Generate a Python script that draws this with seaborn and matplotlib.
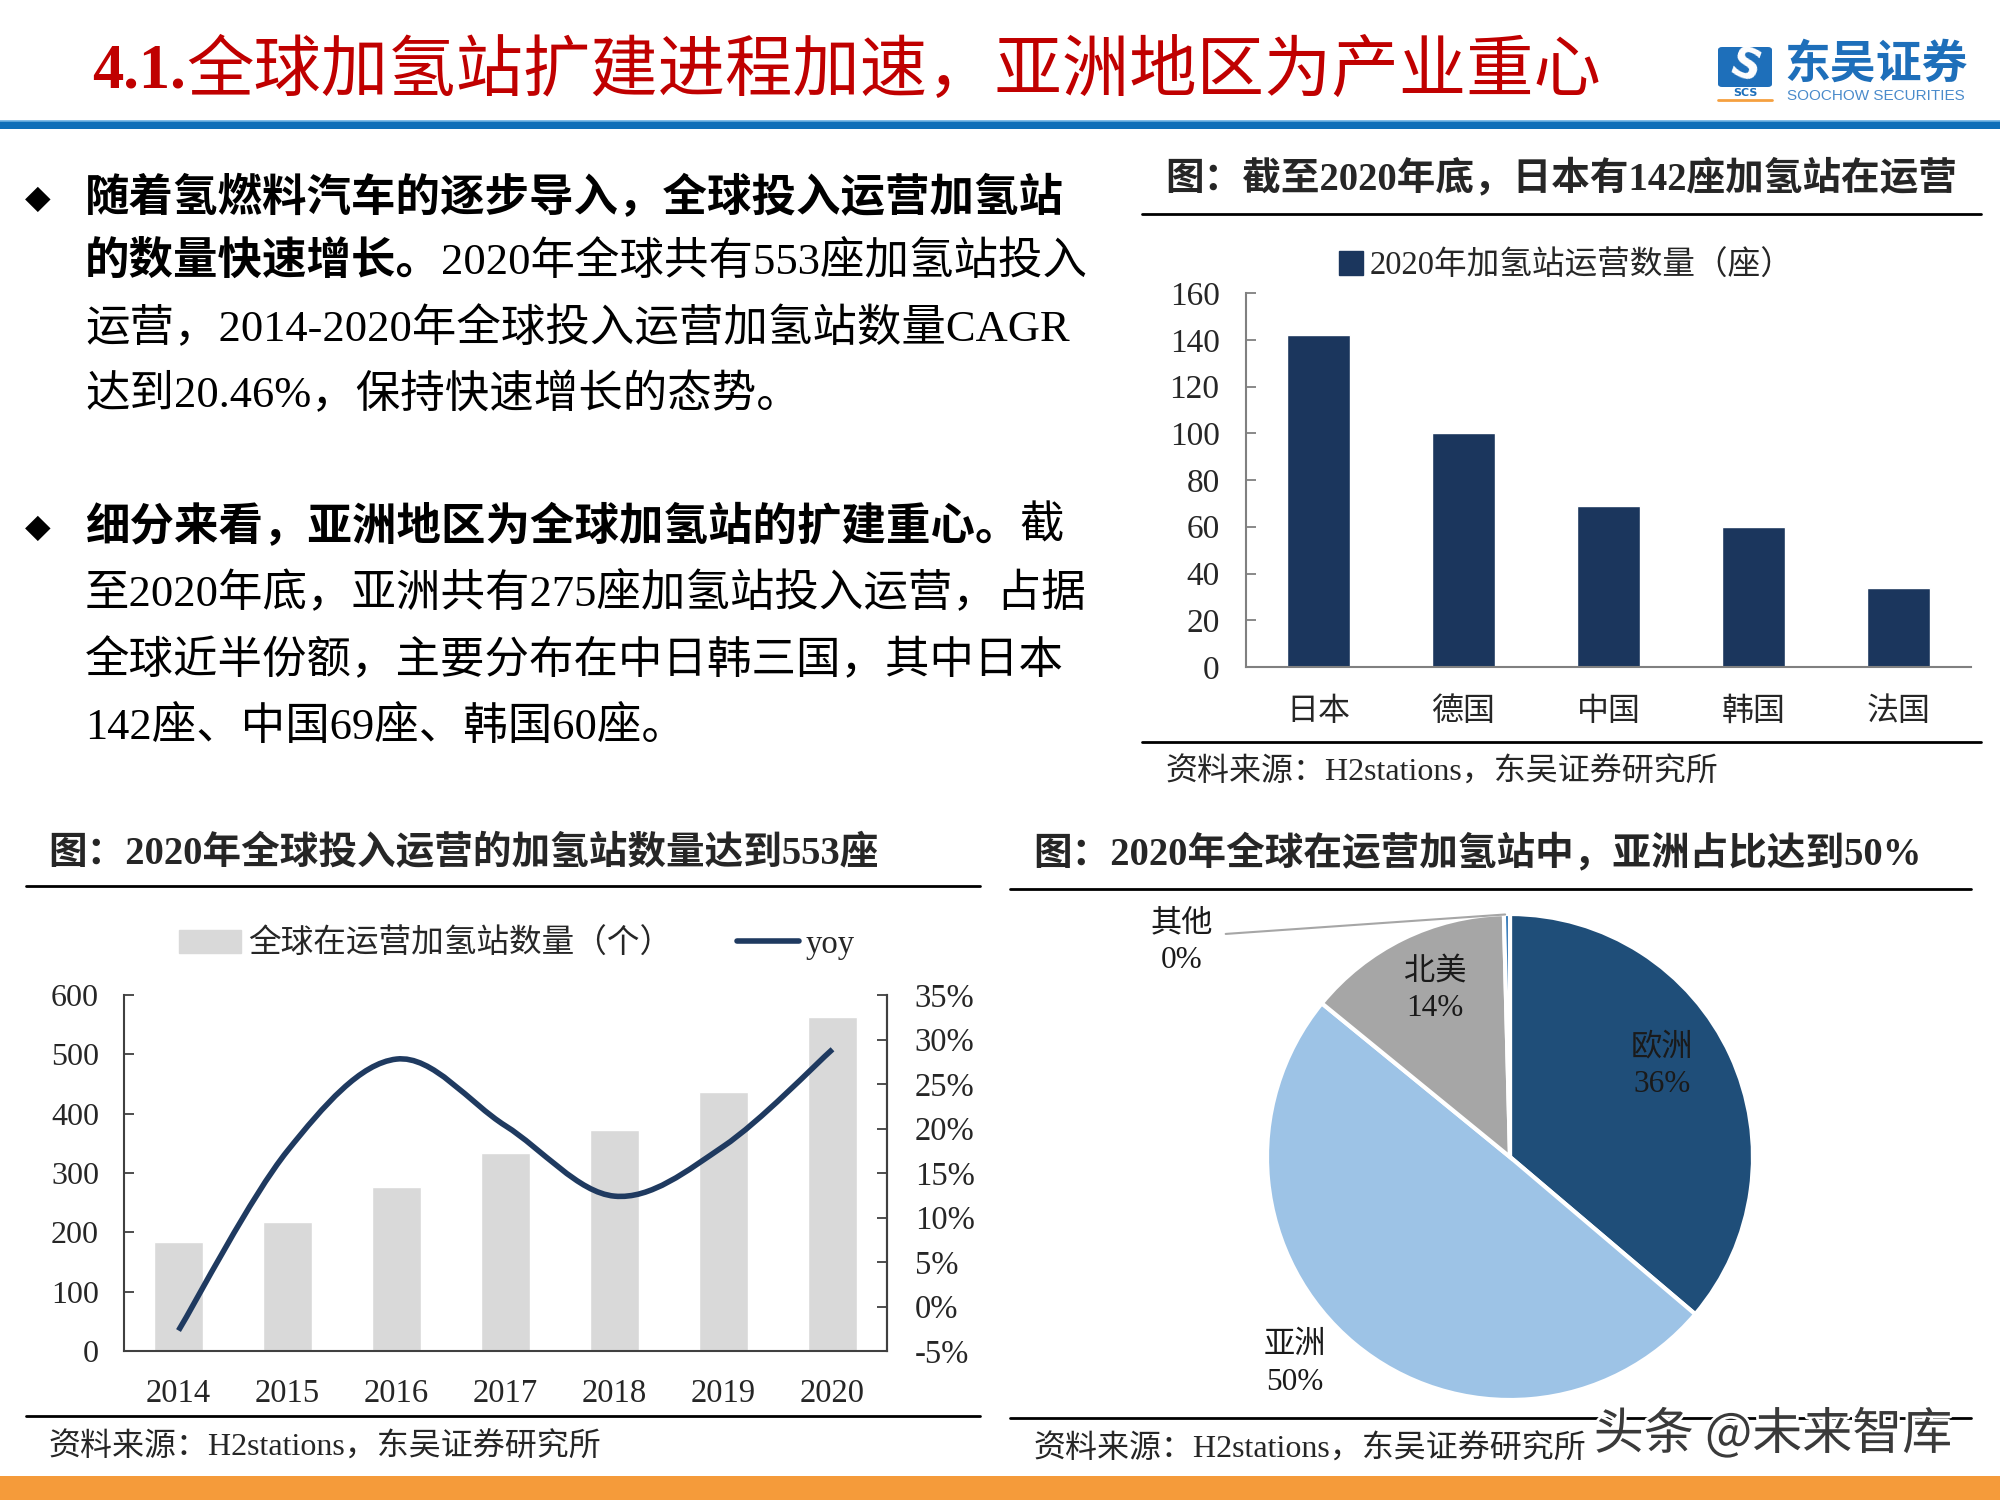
import matplotlib
matplotlib.use('Agg')
import matplotlib.pyplot as plt
import seaborn as sns
import numpy as np
import pandas as pd
from matplotlib.path import Path
from matplotlib.patches import PathPatch, Rectangle, Patch, FancyBboxPatch
from matplotlib.lines import Line2D
import matplotlib.patheffects as pe

# ---------------- data ----------------
country_names = ['日本', '德国', '中国', '韩国', '法国']
country_stations = [142, 100, 69, 60, 34]

years = ['2014', '2015', '2016', '2017', '2018', '2019', '2020']
global_stations = [184, 217, 277, 333, 373, 437, 563]
yoy_pct = [-2.7, 17.5, 27.8, 20.3, 12.4, 18.0, 28.9]

region_names = ['欧洲', '亚洲', '北美', '其他']
region_share = [36.2, 49.7, 13.7, 0.4]

left_ticks = [0, 100, 200, 300, 400, 500, 600]
right_ticks = [-5, 0, 5, 10, 15, 20, 25, 30, 35]
top_ticks = [0, 20, 40, 60, 80, 100, 120, 140, 160]

title_main = '全球加氢站扩建进程加速，亚洲地区为产业重心'
title_top = '图：截至2020年底，日本有142座加氢站在运营'
title_line = '图：2020年全球投入运营的加氢站数量达到553座'
title_pie = '图：2020年全球在运营加氢站中，亚洲占比达到50%'
source_text = '资料来源：H2stations，东吴证券研究所'
legend_top = '2020年加氢站运营数量（座）'
legend_bar = '全球在运营加氢站数量（个）'
legend_line = 'yoy'

body_lines = [
    [('随着氢燃料汽车的逐步导入，全球投入运营加氢站', True)],
    [('的数量快速增长。', True), ('2020年全球共有553座加氢站投入', False)],
    [('运营，2014-2020年全球投入运营加氢站数量CAGR', False)],
    [('达到20.46%，保持快速增长的态势。', False)],
    [('细分来看，亚洲地区为全球加氢站的扩建重心。', True), ('截', False)],
    [('至2020年底，亚洲共有275座加氢站投入运营，占据', False)],
    [('全球近半份额，主要分布在中日韩三国，其中日本', False)],
    [('142座、中国69座、韩国60座。', False)],
]
body_y = [198, 262, 329, 395, 527, 593, 661, 727]
bullet_y = [198, 527]

# ---------------- style ----------------
sns.set_style('white')
FAM = ['Liberation Serif', 'Noto Sans CJK SC', 'DejaVu Sans']
plt.rcParams['font.family'] = FAM
plt.rcParams['axes.unicode_minus'] = False

W, H = 2000, 1500
fig = plt.figure(figsize=(20, 15), dpi=100)
fig.patch.set_facecolor('white')


def fx(px):
    return px / W


def fy(py):
    return 1 - py / H


def hline(x0, x1, y, color='black', lw=2.0):
    fig.add_artist(Line2D([fx(x0), fx(x1)], [fy(y), fy(y)],
                          transform=fig.transFigure, color=color, lw=lw))


renderer = fig.canvas.get_renderer()


def seg_text(x, y, segs, size, color='black', family=FAM):
    cur = x
    for txt, bold in segs:
        t = fig.text(fx(cur), fy(y), txt, fontsize=size, color=color,
                     fontweight='bold' if bold else 'normal',
                     ha='left', va='center', family=family)
        bb = t.get_window_extent(renderer)
        cur += bb.width
    return cur


# ---------------- header ----------------
RED = '#C00000'
cur = seg_text(92, 72, [('4.1.', True)], 45, color=RED)
fig.text(fx(cur), fy(72), title_main, fontsize=48.5, color=RED,
         ha='left', va='center', family=['Noto Sans CJK SC'], fontweight='medium')

# blue band
fig.add_artist(Rectangle((0, fy(129)), 1, 8 / H, transform=fig.transFigure,
                         color='#0F6EB8', lw=0))
hline(0, W, 121, color='#6AAEE0', lw=1.2)

# logo
LB = '#1E6FBA'
fig.add_artist(FancyBboxPatch((fx(1718), fy(87)), 54 / W, 40 / H,
                              boxstyle='round,pad=0,rounding_size=0.002',
                              transform=fig.transFigure, color=LB, lw=0))
fig.text(fx(1745), fy(67), 'S', fontsize=30, color='white', fontweight='bold',
         ha='center', va='center', family=['DejaVu Sans'], rotation=-20)
fig.text(fx(1745), fy(93), 'SCS', fontsize=8, color=LB, fontweight='bold',
         ha='center', va='center', family=['DejaVu Sans'])
hline(1718, 1772, 100, color='#F5A040', lw=2)
fig.text(fx(1876), fy(65), '东吴证券', fontsize=33, color=LB, fontweight='bold',
         ha='center', va='center', family=['Noto Sans CJK SC'])
fig.text(fx(1876), fy(96), 'SOOCHOW SECURITIES', fontsize=11, color='#4A8BCB',
         ha='center', va='center', family=['Liberation Sans'])

# ---------------- body text ----------------
for by in bullet_y:
    fig.text(fx(38), fy(by), '◆', fontsize=24, color='black',
             ha='center', va='center', family=['DejaVu Sans'])
for segs, yy in zip(body_lines, body_y):
    seg_text(85, yy, segs, 32)

# ---------------- section rules & titles ----------------
fig.text(fx(1165), fy(179), title_top, fontsize=27.8, fontweight='bold',
         ha='left', va='center')
hline(1142, 1981, 214)
hline(1142, 1981, 742)
fig.text(fx(1165), fy(773), source_text, fontsize=23, ha='left', va='center')

fig.text(fx(48), fy(855), title_line, fontsize=27.8, fontweight='bold',
         ha='left', va='center')
hline(26, 980, 886)
hline(26, 980, 1416)
fig.text(fx(48), fy(1448), source_text, fontsize=23, ha='left', va='center')

fig.text(fx(1033), fy(855), title_pie, fontsize=27.8, fontweight='bold',
         ha='left', va='center')
hline(1010, 1971, 889)
hline(1010, 1971, 1418)
fig.text(fx(1033), fy(1450), source_text, fontsize=23, ha='left', va='center')

# ---------------- top-right bar chart ----------------
NAVY = '#1B365D'
ax1 = fig.add_axes([fx(1246), fy(667), (1971 - 1246) / W, (667 - 293) / H])
df1 = pd.DataFrame({'country': country_names, 'n': country_stations})
sns.barplot(data=df1, x='country', y='n', color=NAVY, saturation=1,
            width=0.44, ax=ax1)
ax1.set_xlim(-0.5, len(country_names) - 0.5)
ax1.set_ylim(0, 160)
ax1.set_yticks(top_ticks)
ax1.set_xlabel('')
ax1.set_ylabel('')
for s in ['top', 'right']:
    ax1.spines[s].set_visible(False)
for s in ['left', 'bottom']:
    ax1.spines[s].set_color('#808080')
    ax1.spines[s].set_linewidth(1.5)
ax1.set_xticks(np.arange(0.5, len(country_names) - 1, 1.0), minor=True)
ax1.tick_params(axis='x', which='major', length=0, labelsize=23, pad=22)
ax1.tick_params(axis='x', which='minor', direction='in', length=7,
                color='#808080', width=1.3)
ax1.tick_params(axis='y', direction='in', length=7, color='#808080', width=1.3,
                labelsize=24, pad=19, left=True)
ax1.patch.set_alpha(0)
fig.legend(handles=[Patch(facecolor=NAVY, edgecolor=NAVY)], labels=[legend_top],
           loc='center', bbox_to_anchor=(fx(1566), fy(266)), frameon=False,
           fontsize=23.5, handlelength=0.75, handleheight=0.75, handletextpad=0.2,
           borderaxespad=0)

# ---------------- bottom-left bar + line chart ----------------
BARGRAY = '#D9D9D9'
LINE = '#1F3A60'
ax2 = fig.add_axes([fx(124), fy(1351), (887 - 124) / W, (1351 - 995) / H])
df2 = pd.DataFrame({'year': years, 'n': global_stations})
sns.barplot(data=df2, x='year', y='n', color=BARGRAY, saturation=1,
            width=0.45, ax=ax2)
ax2.set_xlim(-0.5, len(years) - 0.5)
ax2.set_ylim(0, 600)
ax2.set_yticks(left_ticks)
ax2.set_xlabel('')
ax2.set_ylabel('')
ax2.spines['top'].set_visible(False)
for s in ['left', 'bottom', 'right']:
    ax2.spines[s].set_color('#404040')
    ax2.spines[s].set_linewidth(1.5)
ax2.set_xticks(np.arange(0.5, len(years) - 1, 1.0), minor=True)
ax2.tick_params(axis='x', which='major', length=0, labelsize=23.5, pad=20)
ax2.tick_params(axis='x', which='minor', direction='in', length=7,
                color='#404040', width=1.3)
ax2.tick_params(axis='y', direction='in', length=7, color='#404040', width=1.3,
                labelsize=23, pad=18, left=True)

ax3 = ax2.twinx()
ax3.set_ylim(-5, 35)
ax3.set_yticks(right_ticks)
ax3.set_yticklabels([f'{v}%' for v in right_ticks])
for s in ['top', 'left', 'bottom']:
    ax3.spines[s].set_visible(False)
ax3.spines['right'].set_color('#404040')
ax3.spines['right'].set_linewidth(1.5)
ax3.tick_params(axis='y', direction='in', length=7, color='#404040', width=1.3,
                labelsize=23.5, pad=20, right=True)

# smoothed line (Catmull-Rom -> cubic Bezier) in data coords
pts = np.column_stack([np.arange(len(years), dtype=float), np.array(yoy_pct, dtype=float)])
n = len(pts)
verts = [pts[0]]
codes = [Path.MOVETO]
for i in range(n - 1):
    p0 = pts[i - 1] if i > 0 else pts[i]
    p1 = pts[i]
    p2 = pts[i + 1]
    p3 = pts[i + 2] if i + 2 < n else pts[i + 1]
    c1 = p1 + (p2 - p0) / 6.0
    c2 = p2 - (p3 - p1) / 6.0
    verts += [c1, c2, p2]
    codes += [Path.CURVE4] * 3
ax3.add_patch(PathPatch(Path(verts, codes), facecolor='none', edgecolor=LINE,
                        lw=4, capstyle='butt'))

fig.legend(handles=[Patch(facecolor=BARGRAY, edgecolor=BARGRAY),
                    Line2D([0], [0], color=LINE, lw=4)],
           labels=[legend_bar, legend_line], ncol=2,
           loc='center', bbox_to_anchor=(fx(517), fy(944)), frameon=False,
           fontsize=23.5, handlelength=1.9, handleheight=0.7, handletextpad=0.2,
           columnspacing=2.0, borderaxespad=0)

# ---------------- bottom-right pie ----------------
axp = fig.add_axes([fx(1267), fy(1400), 486 / W, 486 / H])
pie_colors = ['#1F4E79', '#9DC3E6', '#A6A6A6', '#2E75B6']
axp.pie(region_share, colors=pie_colors, startangle=90, counterclock=False,
        wedgeprops=dict(edgecolor='white', linewidth=3))
axp.set_xlim(-1, 1)
axp.set_ylim(-1, 1)
axp.set_aspect('equal')
axp.axis('off')
label_pos = {'欧洲': (0.626, 0.374), '亚洲': (-0.885, -0.852),
             '北美': (-0.309, 0.687), '其他': (-1.35, 0.885)}
for name, share in zip(region_names, region_share):
    x, y = label_pos[name]
    axp.text(x, y, f'{name}\n{round(share):d}%', fontsize=22.5, color='#1A1A1A',
             ha='center', va='center', linespacing=1.35)
axp.plot([-1.17, -0.02], [0.918, 0.998], color='#A6A6A6', lw=1.5,
         clip_on=False)

# ---------------- footer ----------------
fig.add_artist(Rectangle((0, 0), 1, 24 / H, transform=fig.transFigure,
                         color='#F59B3A', lw=0))
fig.text(fx(1773), fy(1435), '头条 @未来智库', fontsize=36, color='#3A3A3A',
         ha='center', va='center', family=['Noto Sans CJK SC', 'DejaVu Sans'],
         path_effects=[pe.withStroke(linewidth=4, foreground='white')])

fig.savefig('out.png', dpi=100, facecolor='white')
